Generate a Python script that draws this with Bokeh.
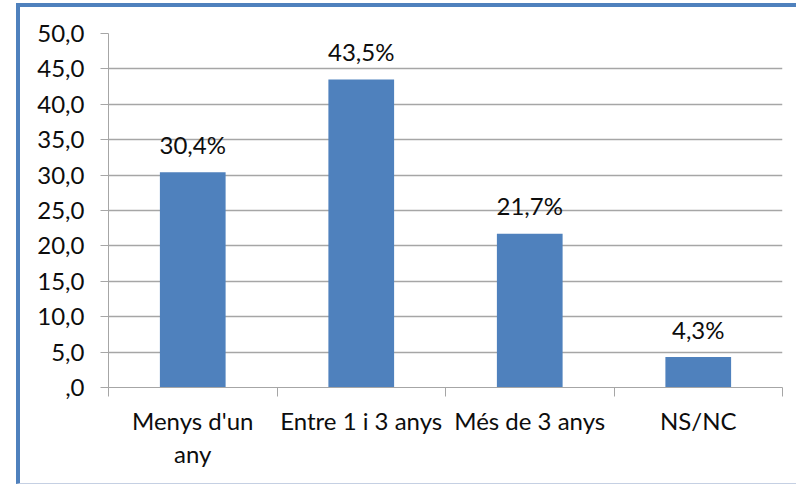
import numpy as np
from bokeh.plotting import figure
from bokeh.models import ColumnDataSource, Range1d, FixedTicker
from bokeh.core.properties import value
from bokeh.embed import file_html
from bokeh.resources import INLINE

categories = ["Menys d'un any", "Entre 1 i 3 anys", "Més de 3 anys", "NS/NC"]
category_labels = ["Menys d'un\nany", "Entre 1 i 3 anys", "Més de 3 anys", "NS/NC"]
values = [30.4, 43.5, 21.7, 4.3]
value_labels = ["30,4%", "43,5%", "21,7%", "4,3%"]
y_ticks = [0, 5, 10, 15, 20, 25, 30, 35, 40, 45, 50]
y_tick_labels = [",0", "5,0", "10,0", "15,0", "20,0", "25,0", "30,0", "35,0", "40,0", "45,0", "50,0"]

FONT = "Lato"
BLUE = "#4f81bd"
GRID = "#a6a6a6"
TXT = "#0d0d0d"

centers = list(np.arange(len(categories)) + 0.5)
bounds = list(np.arange(len(categories) + 1).astype(float))

src = ColumnDataSource(dict(x=centers, top=values, label=value_labels, cat=categories))

p = figure(width=780, height=481, output_backend="svg", toolbar_location=None,
           x_range=Range1d(0, len(categories)), y_range=Range1d(0, 50),
           min_border_left=88, min_border_right=18, min_border_top=26, min_border_bottom=101)
p.styles = {"border-left": "4px solid " + BLUE, "border-top": "4px solid " + BLUE,
            "border-bottom": "1px solid #c5d0e3",
            "margin-left": "16px", "margin-top": "3px"}
p.outline_line_color = None
p.background_fill_color = "white"
p.border_fill_color = "white"

p.vbar(x="x", top="top", width=0.39, bottom=0, source=src, fill_color=BLUE, line_color=None)
p.text(x="x", y="top", text="label", source=src, text_align="center", text_baseline="alphabetic",
       y_offset=-28, text_font=value(FONT), text_font_size="24px", text_color=TXT)

# y axis
p.yaxis.ticker = FixedTicker(ticks=y_ticks)
p.yaxis.major_label_overrides = {t: l for t, l in zip(y_ticks, y_tick_labels)}
p.yaxis.major_tick_out = 8
p.yaxis.major_tick_in = 0
p.yaxis.minor_tick_line_color = None
p.yaxis.axis_line_color = GRID
p.yaxis.major_tick_line_color = GRID
p.yaxis.major_label_standoff = 16
p.yaxis.major_label_text_font = FONT
p.yaxis.major_label_text_font_size = "24px"
p.yaxis.major_label_text_color = TXT
p.ygrid.ticker = FixedTicker(ticks=y_ticks)
p.ygrid.grid_line_color = GRID
p.ygrid.grid_line_width = 1.5

# x axis: labels at centers, ticks at category boundaries
p.xaxis.ticker = FixedTicker(ticks=centers, minor_ticks=bounds)
p.xaxis.major_label_overrides = {c: l for c, l in zip(centers, category_labels)}
p.xaxis.major_tick_line_color = None
p.xaxis.major_tick_out = 0
p.xaxis.major_tick_in = 0
p.xaxis.minor_tick_line_color = GRID
p.xaxis.minor_tick_out = 9
p.xaxis.minor_tick_in = 0
p.xaxis.axis_line_color = GRID
p.xaxis.major_label_standoff = 9
p.xaxis.major_label_text_font = FONT
p.xaxis.major_label_text_font_size = "24px"
p.xaxis.major_label_text_color = TXT
p.xaxis.major_label_text_line_height = 1.15
p.xgrid.grid_line_color = None

open("out.html", "w").write(file_html(p, INLINE))
